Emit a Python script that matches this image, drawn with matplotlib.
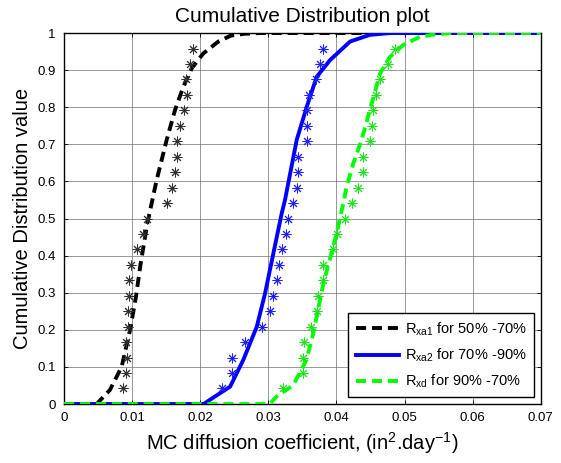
import matplotlib
matplotlib.use("Agg")
import matplotlib.pyplot as plt

plt.rcParams['font.family'] = ['Liberation Sans', 'DejaVu Sans']
plt.rcParams['mathtext.fontset'] = 'custom'
plt.rcParams['mathtext.rm'] = 'Liberation Sans'
plt.rcParams['mathtext.it'] = 'Liberation Sans'

# Empirical CDF points (asterisks)
star_y = [0.042, 0.083, 0.125, 0.167, 0.208, 0.25, 0.292, 0.333, 0.375, 0.417, 0.458, 0.5,
          0.542, 0.583, 0.625, 0.667, 0.708, 0.75, 0.792, 0.833, 0.875, 0.917, 0.958]
xa1_star_x = [0.0086, 0.0091, 0.0092, 0.0091, 0.00945, 0.00945, 0.0096, 0.0096, 0.0098, 0.01077,
              0.01165, 0.01214, 0.01517, 0.0158, 0.0163, 0.01664, 0.01664, 0.0170, 0.0176, 0.0181,
              0.0179, 0.0185, 0.01899]
xa2_star_x = [0.02316, 0.02462, 0.02462, 0.02658, 0.02903, 0.03025, 0.03065, 0.03123, 0.03157, 0.03206,
              0.0326, 0.03294, 0.03358, 0.03426, 0.03441, 0.03441, 0.03564, 0.03564, 0.03573, 0.03602,
              0.037, 0.03759, 0.03808]
xd_star_x = [0.0322, 0.0351, 0.0351, 0.0352, 0.0362, 0.0371, 0.03734, 0.0381, 0.0381, 0.03955,
             0.04004, 0.04126, 0.04224, 0.04322, 0.04395, 0.04395, 0.04493, 0.04518, 0.04542, 0.04581,
             0.0464, 0.04762, 0.0486]

# Fitted CDF curves
xa1_cx = [0, 0.0048, 0.00675, 0.00847, 0.0097, 0.01057, 0.01126, 0.01224, 0.01361, 0.01508, 0.0163,
          0.01752, 0.01875, 0.02046, 0.02266, 0.0245, 0.0265, 0.029, 0.07]
xa1_cy = [0, 0, 0.038, 0.10, 0.199, 0.289, 0.379, 0.487, 0.604, 0.712, 0.792,
          0.855, 0.905, 0.945, 0.977, 0.993, 0.998, 1.0, 1.0]
xa2_cx = [0, 0.0205, 0.0214, 0.0244, 0.02633, 0.0283, 0.02952, 0.03074, 0.03197, 0.03245, 0.03417,
          0.03564, 0.0371, 0.03906, 0.042, 0.0449, 0.0479, 0.07]
xa2_cy = [0, 0, 0.011, 0.047, 0.119, 0.208, 0.298, 0.406, 0.514, 0.55, 0.712,
          0.801, 0.882, 0.927, 0.977, 0.995, 1.0, 1.0]
xd_cx = [0, 0.0302, 0.0312, 0.03367, 0.0356, 0.0366, 0.0381, 0.04004, 0.041, 0.0415, 0.04248, 0.0437,
         0.0449, 0.0464, 0.04787, 0.04982, 0.05228, 0.05473, 0.057, 0.07]
xd_cy = [0, 0, 0.02, 0.051, 0.119, 0.191, 0.326, 0.46, 0.541, 0.586, 0.649, 0.712,
         0.792, 0.891, 0.936, 0.968, 0.99, 0.997, 1.0, 1.0]

labels = [r'R$_{\mathregular{xa1}}$ for 50% -70%',
          r'R$_{\mathregular{xa2}}$ for 70% -90%',
          r'R$_{\mathregular{xd}}$ for 90% -70%']
xticks = [0, 0.01, 0.02, 0.03, 0.04, 0.05, 0.06, 0.07]
xticklabels = ['0', '0.01', '0.02', '0.03', '0.04', '0.05', '0.06', '0.07']
yticks = [0, 0.1, 0.2, 0.3, 0.4, 0.5, 0.6, 0.7, 0.8, 0.9, 1.0]
yticklabels = ['0', '0.1', '0.2', '0.3', '0.4', '0.5', '0.6', '0.7', '0.8', '0.9', '1']

fig = plt.figure(figsize=(5.61, 4.63), dpi=100)
ax = fig.add_axes([0.114, 0.1274, 0.850, 0.8013])

dash = (0, (2.6, 1.5))
l1, = ax.plot(xa1_cx, xa1_cy, color='black', lw=2.8, ls=dash, zorder=3)
l2, = ax.plot(xa2_cx, xa2_cy, color='#0000ff', lw=2.8, ls='-', zorder=3)
l3, = ax.plot(xd_cx, xd_cy, color='#00ff00', lw=2.8, ls=dash, zorder=3)

ast = (8, 2, 0)
ax.plot(xa1_star_x, star_y, ls='none', marker=ast, ms=7, mew=0.7, color='#303030', zorder=4)
ax.plot(xa2_star_x, star_y, ls='none', marker=ast, ms=7, mew=0.7, color='#2020ff', zorder=4)
ax.plot(xd_star_x, star_y, ls='none', marker=ast, ms=7, mew=0.7, color='#20e020', zorder=4)

ax.set_xlim(0, 0.07)
ax.set_ylim(0, 1)
ax.set_xticks(xticks)
ax.set_xticklabels(xticklabels)
ax.set_yticks(yticks)
ax.set_yticklabels(yticklabels)
ax.tick_params(direction='in', top=True, right=True, length=3, width=0.6, labelsize=9.5)
ax.tick_params(axis='x', pad=6)
ax.tick_params(axis='y', pad=6)
ax.grid(True, color='#707070', lw=0.5, ls='-')
ax.set_axisbelow(True)
for s in ax.spines.values():
    s.set_linewidth(1.0)

ax.set_title('Cumulative Distribution plot', fontsize=15, pad=8)
ax.set_xlabel(r'MC diffusion coefficient, (in$^{\mathregular{2}}$.day$^{\mathregular{-1}}$)', fontsize=14.5, labelpad=4)
ax.set_ylabel('Cumulative Distribution value', fontsize=14.5, labelpad=4)

leg = ax.legend([l1, l2, l3], labels, loc='lower right', fontsize=10.5, frameon=True, fancybox=False,
                edgecolor='black', framealpha=1, handlelength=3.0, borderaxespad=0.45,
                labelspacing=0.6, handletextpad=0.4, borderpad=0.5)
leg.get_frame().set_linewidth(1.0)

fig.savefig('out.png', dpi=100)
